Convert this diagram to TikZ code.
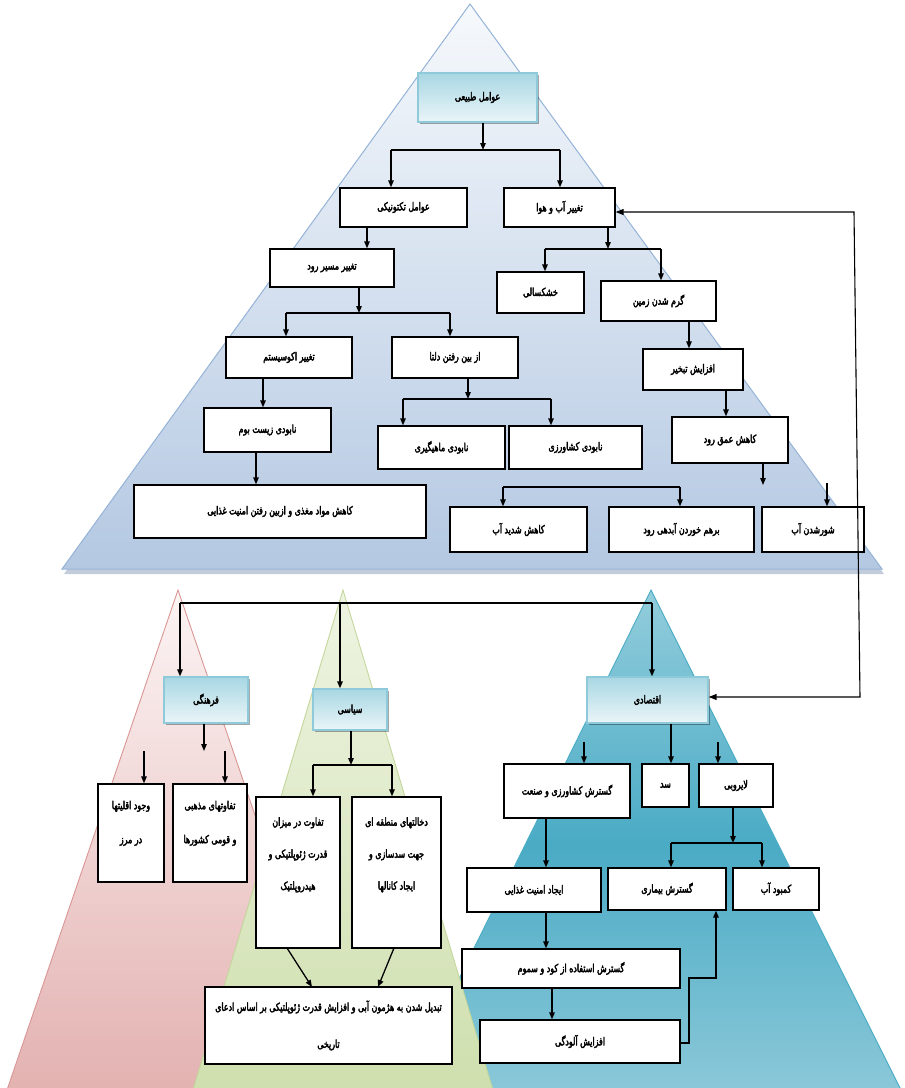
\documentclass[tikz,border=0pt]{standalone}
\usepackage{fontspec}
\newfontfamily\fa[Script=Arabic,FakeStretch=0.72,FakeBold=3]{DejaVu Sans}
\TeXXeTstate=1
\usetikzlibrary{arrows.meta,shadows}
\newcommand\RL[1]{\beginR #1\endR}
\newcommand\bx[6][bx]{\node[#1,minimum width={#4pt-#2pt},minimum height={#5pt-#3pt}] (#6) at ({(#2+#4)/2},{(#3+#5)/2})}
\definecolor{topA}{HTML}{F6F9FC}
\definecolor{topB}{HTML}{B4C8E2}
\definecolor{topE}{HTML}{95B3D7}
\definecolor{pinkA}{HTML}{FCF4F4}
\definecolor{pinkB}{HTML}{E3B2B1}
\definecolor{pinkE}{HTML}{D99694}
\definecolor{grnA}{HTML}{EEF4E2}
\definecolor{grnB}{HTML}{CFDFAE}
\definecolor{grnE}{HTML}{C3D69B}
\definecolor{tlA}{HTML}{93CDDC}
\definecolor{tlB}{HTML}{4AABC5}
\definecolor{tlC}{HTML}{8DC9D9}
\definecolor{tlE}{HTML}{4BACC6}
\definecolor{hdA}{HTML}{A8D7E3}
\definecolor{hdB}{HTML}{EAF5F8}
\definecolor{hdE}{HTML}{8ECADA}
\tikzset{
  bx/.style={draw=black,line width=1.3pt,fill=white,inner sep=1pt,align=center,
    font=\fa\fontsize{11}{34}\selectfont,
    drop shadow={shadow xshift=1.2pt,shadow yshift=-1.2pt,opacity=0.45,fill=black}},
  hdr/.style={bx,draw=hdE,line width=1.4pt,top color=hdA,bottom color=hdB,
    drop shadow={shadow xshift=1.5pt,shadow yshift=-2pt,opacity=0.35,fill=black}},
  arr/.style={-{Triangle[length=7pt,width=5.5pt]},line width=1.3pt},
  ln/.style={line width=1.3pt},
  loopln/.style={{Triangle[length=8pt,width=6pt]}-{Triangle[length=8pt,width=6pt]},line width=1.1pt}
}
\begin{document}
\begin{tikzpicture}[x=1pt,y=-1pt]
\useasboundingbox (0,0) rectangle (905,1088);
\begin{scope}
\clip (0,0) rectangle (905,1088);
% top pyramid
\fill[topE!80!black,opacity=0.45] (472,8) -- (884,574) -- (64,574) -- cycle;
\draw[topE,line width=1pt,top color=topA,bottom color=topB] (470,4) -- (882,569) -- (62,569) -- cycle;
% bottom pyramids
\draw[pinkE,line width=0.9pt,top color=pinkA,bottom color=pinkB] (178,590) -- (349,1090) -- (7,1090) -- cycle;
\draw[tlE,line width=0.9pt,top color=tlA,bottom color=tlC,middle color=tlB] (651,590) -- (905,1098) -- (400,1098) -- cycle;
\draw[grnE,line width=0.9pt,top color=grnA,bottom color=grnB] (343,590) -- (493,1090) -- (193,1090) -- cycle;
\end{scope}

% ---------- top boxes
\bx[hdr]{418}{73}{537}{122}{n1}{\RL{عوامل طبیعی}};
\bx{340}{188}{467}{227}{n2}{\RL{عوامل تکتونیکی}};
\bx{504}{188}{615}{227}{n3}{\RL{تغییر آب و هوا}};
\bx{270}{249}{394}{287}{n4}{\RL{تغییر مسیر رود}};
\bx{226}{337}{352}{378}{n5}{\RL{تغییر اکوسیستم}};
\bx{392}{337}{518}{378}{n6}{\RL{از بین رفتن دلتا}};
\bx{497}{272}{584}{313}{n7}{\RL{خشکسالی}};
\bx{601}{281}{716}{321}{n8}{\RL{گرم شدن زمین}};
\bx{643}{349}{743}{390}{n9}{\RL{افزایش تبخیر}};
\bx{672}{417}{788}{463}{n10}{\RL{کاهش عمق رود}};
\bx{450}{507}{587}{552}{n11}{\RL{کاهش شدید آب}};
\bx{609}{507}{754}{552}{n12}{\RL{برهم خوردن آبدهی رود}};
\bx{762}{507}{864}{552}{n13}{\RL{شورشدن آب}};
\bx{378}{426}{505}{469}{n14}{\RL{نابودی ماهیگیری}};
\bx{509}{426}{642}{469}{n15}{\RL{نابودی کشاورزی}};
\bx{204}{408}{331}{452}{n16}{\RL{نابودی زیست بوم}};
\bx{134}{485}{426}{538}{n17}{\RL{کاهش مواد مغذی و ازبین رفتن امنیت غذایی}};

% ---------- bottom boxes
\bx[hdr]{164}{677}{248}{723}{f1}{\RL{فرهنگی}};
\bx{98}{784}{164}{882}{f2}{\RL{وجود اقلیتها}\\\RL{در مرز}\\[-12pt]\mbox{}};
\bx{173}{784}{247}{882}{f3}{\RL{تفاوتهای مذهبی}\\\RL{و قومی کشورها}\\[-12pt]\mbox{}};
\bx[hdr]{313}{689}{387}{730}{s1}{\RL{سیاسی}};
\bx[bx,font=\fa\fontsize{11}{32}\selectfont]{256}{797}{340}{948}{s2}{\RL{تفاوت در میزان}\\\RL{قدرت ژئوپلتیکی و}\\\RL{هیدروپلتیک}\\[6pt]\mbox{}};
\bx[bx,font=\fa\fontsize{11}{32}\selectfont]{352}{797}{441}{948}{s3}{\RL{دخالتهای منطقه ای}\\\RL{جهت سدسازی و}\\\RL{ایجاد کانالها}\\[6pt]\mbox{}};
\bx[bx,font=\fa\fontsize{11}{37}\selectfont]{205}{987}{452}{1064}{s4}{\RL{تبدیل شدن به هژمون آبی و افزایش قدرت ژئوپلتیکی بر اساس ادعای}\\\RL{تاریخی}};
\bx[hdr]{587}{677}{708}{723}{e1}{\RL{اقتصادی}};
\bx{504}{764}{630}{818}{e2}{\RL{گسترش کشاورزی و صنعت}};
\bx{642}{764}{689}{807}{e3}{\RL{سد}};
\bx{699}{764}{773}{807}{e4}{\RL{لایروبی}};
\bx{608}{868}{726}{910}{e5}{\RL{گسترش بیماری}};
\bx{733}{868}{819}{910}{e6}{\RL{کمبود آب}};
\bx{467}{868}{601}{912}{e7}{\RL{ایجاد امنیت غذایی}};
\bx{462}{949}{680}{988}{e8}{\RL{گسترش استفاده از کود و سموم}};
\bx{480}{1020}{680}{1063}{e9}{\RL{افزایش آلودگی}};

% ---------- coordinates
\coordinate (j1) at (483,150);
\coordinate (b1l) at (391,150); \coordinate (b1r) at (560,150);
\coordinate (x2) at (367,0);
\coordinate (j4) at (359,313);
\coordinate (b4l) at (286,313); \coordinate (b4r) at (450,313);
\coordinate (j3) at (608,249);
\coordinate (b3l) at (545,249); \coordinate (b3r) at (661,249);
\coordinate (x8) at (689,0);
\coordinate (x9) at (726,0);
\coordinate (fa) at (763,485);
\coordinate (fb) at (827,483);
\coordinate (b10l) at (503,487); \coordinate (b10r) at (680,487);
\coordinate (j6) at (468,399);
\coordinate (b6l) at (403,399); \coordinate (b6r) at (551,399);
\coordinate (x5) at (263,0);
\coordinate (x16) at (256,0);
\coordinate (r1) at (854,212); \coordinate (r2) at (860,697);
% bottom
\coordinate (t1) at (180,603); \coordinate (t2) at (340,603); \coordinate (t3) at (652,603);
\coordinate (ff) at (204,751);
\coordinate (fl) at (144,751); \coordinate (fr) at (225,751);
\coordinate (js) at (351,765);
\coordinate (bsl) at (313,765); \coordinate (bsr) at (392,765);
\coordinate (d1a) at (287,948); \coordinate (d1b) at (312,987);
\coordinate (d2a) at (394,948); \coordinate (d2b) at (378,987);
\coordinate (el) at (584,742); \coordinate (er) at (718,742);
\coordinate (x3) at (671,0);
\coordinate (je) at (733,843);
\coordinate (bel) at (671,843); \coordinate (ber) at (762,843);
\coordinate (x2e) at (546,0);
\coordinate (x8e) at (552,0);
\coordinate (p1) at (689,1043); \coordinate (p2) at (689,978); \coordinate (p3) at (716,978);

% ---------- connectors top
\draw[arr] (n1.south -| j1) -- (j1);
\draw[ln] (b1l) -- (b1r);
\draw[arr] (b1l) -- (b1l |- n2.north);
\draw[arr] (b1r) -- (b1r |- n3.north);
\draw[arr] (n2.south -| x2) -- (n4.north -| x2);
\draw[arr] (n4.south -| j4) -- (j4);
\draw[ln] (b4l) -- (b4r);
\draw[arr] (b4l) -- (b4l |- n5.north);
\draw[arr] (b4r) -- (b4r |- n6.north);
\draw[arr] (n3.south -| j3) -- (j3);
\draw[ln] (b3l) -- (b3r);
\draw[arr] (b3l) -- (b3l |- n7.north);
\draw[arr] (b3r) -- (b3r |- n8.north);
\draw[arr] (n8.south -| x8) -- (n9.north -| x8);
\draw[arr] (n9.south -| x9) -- (n10.north -| x9);
\draw[arr] (n10.south -| fa) -- (fa);
\draw[arr] (fb) -- (fb |- n13.north);
\draw[ln] (b10l) -- (b10r);
\draw[arr] (b10l) -- (b10l |- n11.north);
\draw[arr] (b10r) -- (b10r |- n12.north);
\draw[arr] (n6.south -| j6) -- (j6);
\draw[ln] (b6l) -- (b6r);
\draw[arr] (b6l) -- (b6l |- n14.north);
\draw[arr] (b6r) -- (b6r |- n15.north);
\draw[arr] (n5.south -| x5) -- (n16.north -| x5);
\draw[arr] (n16.south -| x16) -- (n17.north -| x16);
\draw[loopln] (n3.east |- r1) -- (r1) -- (r2) -- (e1.east |- r2);

% ---------- connectors bottom
\draw[ln,line width=1.6pt] (t1) -- (t3);
\draw[arr] (t1) -- (t1 |- f1.north);
\draw[arr,line width=1.6pt] (t2) -- (t2 |- s1.north);
\draw[arr] (t3) -- (t3 |- e1.north);
\draw[arr] (f1.south -| ff) -- (ff);
\draw[arr] (fl) -- (fl |- f2.north);
\draw[arr] (fr) -- (fr |- f3.north);
\draw[arr] (s1.south -| js) -- (js);
\draw[ln] (bsl) -- (bsr);
\draw[arr] (bsl) -- (bsl |- s2.north);
\draw[arr] (bsr) -- (bsr |- s3.north);
\draw[arr] (d1a) -- (d1b);
\draw[arr] (d2a) -- (d2b);
\draw[arr] (e1.south -| x3) -- (e3.north -| x3);
\draw[arr] (el) -- (el |- e2.north);
\draw[arr] (er) -- (er |- e4.north);
\draw[arr] (e4.south -| je) -- (je);
\draw[ln] (bel) -- (ber);
\draw[arr] (bel) -- (bel |- e5.north);
\draw[arr] (ber) -- (ber |- e6.north);
\draw[arr] (e2.south -| x2e) -- (e7.north -| x2e);
\draw[arr] (e7.south -| x2e) -- (e8.north -| x2e);
\draw[arr] (e8.south -| x8e) -- (e9.north -| x8e);
\draw[arr] (e9.east |- p1) -- (p1) -- (p2) -- (p3) -- (p3 |- e5.south);
\end{tikzpicture}
\end{document}
